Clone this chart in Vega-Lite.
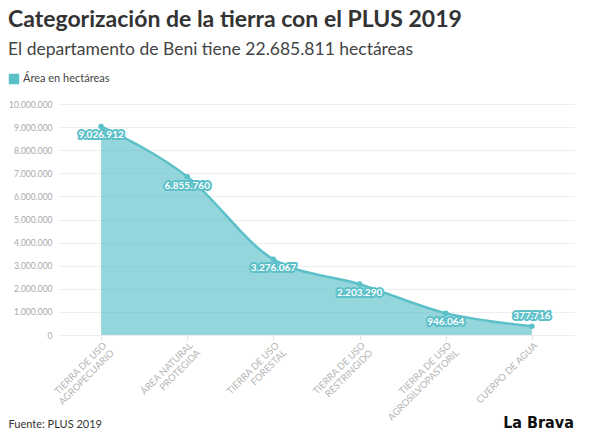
{
  "$schema": "https://vega.github.io/schema/vega-lite/v6.json",
  "width": 517,
  "height": 231,
  "padding": {"left": 8, "top": 8, "right": 14, "bottom": 14},
  "background": "white",
  "config": {
    "font": "Lato",
    "view": {"stroke": null},
    "locale": {"number": {"decimal": ",", "thousands": ".", "grouping": [3], "currency": ["", ""]}}
  },
  "title": {
    "text": "Categorización de la tierra con el PLUS 2019",
    "subtitle": "El departamento de Beni tiene 22.685.811 hectáreas",
    "anchor": "start",
    "font": "Lato",
    "fontSize": 23,
    "fontWeight": "bold",
    "color": "#333333",
    "subtitleFont": "Lato",
    "subtitleFontSize": 17.5,
    "subtitleColor": "#444444",
    "subtitlePadding": 9,
    "offset": 15
  },
  "data": {
    "values": [
      {"categoria": "TIERRA DE USO\nAGROPECUARIO", "hectareas": 9026912, "serie": "Área en hectáreas", "pos": "below"},
      {"categoria": "ÁREA NATURAL\nPROTEGIDA", "hectareas": 6855760, "serie": "Área en hectáreas", "pos": "below"},
      {"categoria": "TIERRA DE USO\nFORESTAL", "hectareas": 3276067, "serie": "Área en hectáreas", "pos": "below"},
      {"categoria": "TIERRA DE USO\nRESTRINGIDO", "hectareas": 2203290, "serie": "Área en hectáreas", "pos": "below"},
      {"categoria": "TIERRA DE USO\nAGROSILVOPASTORIL", "hectareas": 946064, "serie": "Área en hectáreas", "pos": "below"},
      {"categoria": "CUERPO DE AGUA", "hectareas": 377716, "serie": "Área en hectáreas", "pos": "above"}
    ]
  },
  "encoding": {
    "x": {
      "field": "categoria",
      "type": "nominal",
      "sort": null,
      "scale": {"type": "point", "padding": 0.5},
      "axis": {
        "title": "Fuente: PLUS 2019",
        "titleAnchor": "start",
        "titleAlign": "left",
        "titleX": -50,
        "titleY": 83,
        "titleFont": "Lato",
        "titleFontSize": 11,
        "titleFontWeight": "normal",
        "titleColor": "#333333",
        "labelExpr": "split(datum.label, '\\n')",
        "labelAngle": -45,
        "labelAlign": "right",
        "labelBaseline": "top",
        "labelFontSize": 9.5,
        "labelColor": "#b5b5b5",
        "labelLineHeight": 10.5,
        "labelPadding": 0,
        "domain": false,
        "grid": false,
        "ticks": true,
        "tickSize": 5,
        "tickColor": "#e4e4e4"
      }
    },
    "y": {
      "field": "hectareas",
      "type": "quantitative",
      "scale": {"domain": [0, 10000000]},
      "axis": {
        "title": null,
        "format": ",.0f",
        "tickCount": 10,
        "labelFontSize": 8.5,
        "labelColor": "#a8a8a8",
        "labelPadding": 6,
        "domain": false,
        "ticks": false,
        "gridColor": "#eeeeee"
      }
    }
  },
  "layer": [
    {
      "mark": {"type": "area", "interpolate": "monotone", "opacity": 0.65},
      "encoding": {
        "color": {
          "field": "serie",
          "type": "nominal",
          "scale": {"range": ["#5bc0c8"]},
          "legend": {
            "title": null,
            "orient": "none",
            "legendX": -50,
            "legendY": -31,
            "symbolType": "square",
            "symbolSize": 110,
            "symbolOpacity": 1,
            "labelFont": "Lato",
            "labelFontSize": 11,
            "labelColor": "#444444",
            "labelOffset": 3
          }
        }
      }
    },
    {
      "mark": {"type": "line", "interpolate": "monotone", "color": "#5bc0c8", "strokeWidth": 2.5}
    },
    {
      "mark": {"type": "point", "filled": true, "color": "#5bc0c8", "size": 30, "opacity": 1}
    },
    {
      "transform": [{"filter": "datum.pos === 'below'"}],
      "mark": {"type": "text", "dy": 9, "fontSize": 10, "fontWeight": "bold", "stroke": "#5bc0c8", "strokeWidth": 4, "strokeJoin": "round", "color": "#5bc0c8"},
      "encoding": {"text": {"field": "hectareas", "type": "quantitative", "format": ",.0f"}}
    },
    {
      "transform": [{"filter": "datum.pos === 'below'"}],
      "mark": {"type": "text", "dy": 9, "fontSize": 10, "fontWeight": "bold", "color": "white"},
      "encoding": {"text": {"field": "hectareas", "type": "quantitative", "format": ",.0f"}}
    },
    {
      "transform": [{"filter": "datum.pos === 'above'"}],
      "mark": {"type": "text", "dy": -10, "fontSize": 10, "fontWeight": "bold", "stroke": "#5bc0c8", "strokeWidth": 4, "strokeJoin": "round", "color": "#5bc0c8"},
      "encoding": {"text": {"field": "hectareas", "type": "quantitative", "format": ",.0f"}}
    },
    {
      "transform": [{"filter": "datum.pos === 'above'"}],
      "mark": {"type": "text", "dy": -10, "fontSize": 10, "fontWeight": "bold", "color": "white"},
      "encoding": {"text": {"field": "hectareas", "type": "quantitative", "format": ",.0f"}}
    },
    {
      "transform": [{"filter": "datum.pos === 'above'"}],
      "mark": {"type": "text", "align": "right", "baseline": "middle", "dx": 42, "dy": 88, "font": "DejaVu Sans Condensed", "fontWeight": "bold", "fontSize": 16, "color": "#111111"},
      "encoding": {
        "y": {"datum": 0, "type": "quantitative"},
        "text": {"value": "La Brava"}
      }
    }
  ]
}
